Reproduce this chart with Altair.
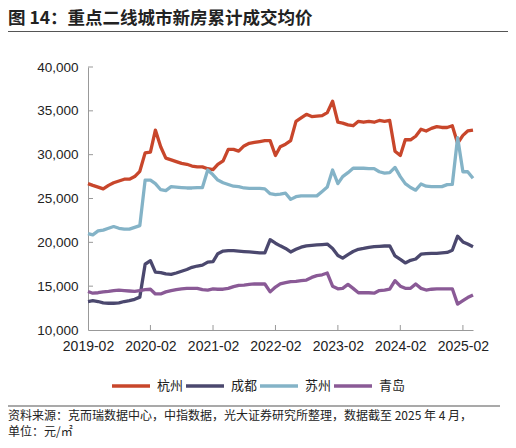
import altair as alt
import pandas as pd

cities = ["杭州", "成都", "苏州", "青岛"]
colors = ["#C8462B", "#4B486E", "#84B3C7", "#8A5A96"]

# monthly, 2019-02 ... 2025-04 (75 months)
months = pd.date_range("2019-02-01", periods=75, freq="MS").strftime("%Y-%m-%d").tolist()

hangzhou = [26700, 26500, 26300, 26100, 26500, 26800, 27000, 27200, 27200, 27500, 28100,
            30200, 30300, 32800, 30900, 29600, 29400, 29200, 29000, 28900, 28700, 28600, 28600, 28400,
            28300, 28900, 29300, 30600, 30600, 30400, 31000, 31300, 31400, 31500, 31600, 31600,
            29900, 30900, 31200, 31600, 33800, 34200, 34600, 34350, 34400, 34450, 34800, 36100,
            33700, 33600, 33400, 33300, 33800, 33700, 33800, 33700, 33900, 33800, 33900, 30400,
            29900, 31700, 31700, 32100, 32900, 32700, 33000, 33200, 33100, 33100, 33300, 31300,
            32200, 32700, 32800]
chengdu = [13250, 13340, 13250, 13100, 13050, 13050, 13100, 13250, 13340, 13500, 13750,
           17500, 17900, 16600, 16550, 16400, 16350, 16500, 16700, 16900, 17150, 17300, 17400, 17750,
           17800, 18700, 19000, 19050, 19050, 19000, 18950, 18900, 18850, 18800, 18800, 20300,
           19900, 19600, 19300, 18900, 19200, 19450, 19600, 19650, 19700, 19750, 19800, 19300,
           18500, 18200, 18600, 18950, 19200, 19300, 19430, 19500, 19550, 19580, 19600, 18450,
           18050, 17650, 17950, 18100, 18650, 18700, 18750, 18750, 18800, 18850, 19100, 20700,
           20050, 19800, 19500]
suzhou = [21000, 20850, 21300, 21400, 21600, 21800, 21600, 21500, 21500, 21700, 21900,
          27100, 27100, 26700, 26000, 25900, 26350, 26300, 26250, 26200, 26200, 26250, 26250, 28250,
          27700, 27100, 26800, 26600, 26400, 26350, 26200, 26150, 26150, 26150, 26100, 25550,
          25450, 25500, 25600, 24900, 25200, 25300, 25300, 25300, 25300, 25800, 26300, 28250,
          26700, 27500, 27950, 28450, 28450, 28450, 28400, 28400, 28050, 27900, 27950, 28550,
          27500, 26700, 26250, 25950, 26650, 26400, 26350, 26350, 26350, 26580, 26600, 31950,
          28050, 28050, 27300]
qingdao = [14400, 14200, 14250, 14350, 14400, 14480, 14550, 14500, 14450, 14400, 14500,
           14600, 14650, 14110, 14110, 14350, 14480, 14600, 14700, 14750, 14750, 14750, 14600, 14560,
           14700, 14650, 14650, 14750, 14950, 15100, 15130, 15200, 15250, 15250, 15250, 14350,
           14900, 15250, 15400, 15510, 15550, 15620, 15700, 16000, 16200, 16300, 16500, 15000,
           14700, 14750, 15200, 14750, 14250, 14250, 14250, 14200, 14500, 14550, 14650, 15620,
           15000, 14750, 14750, 15250, 14750, 14560, 14650, 14700, 14700, 14700, 14700, 12950,
           13350, 13700, 14000]

y_ticks = [10000, 15000, 20000, 25000, 30000, 35000, 40000]
x_tick_years = [2019, 2020, 2021, 2022, 2023, 2024, 2025]

title_text = "图 14：重点二线城市新房累计成交均价"
source_line1 = "资料来源：克而瑞数据中心，中指数据，光大证券研究所整理，数据截至 2025 年 4 月，"
source_line2 = "单位：元/㎡"

series = {"杭州": hangzhou, "成都": chengdu, "苏州": suzhou, "青岛": qingdao}
rows = []
for c in cities:
    for d, v in zip(months, series[c]):
        rows.append({"date": d, "city": c, "value": v})
df = pd.DataFrame(rows)

W, H = 385, 263

x_dates = [alt.DateTime(year=y, month=2, date=1, utc=True) for y in x_tick_years]
x_scale = alt.Scale(type="utc",
                    domain=[alt.DateTime(year=2019, month=2, date=1, utc=True),
                            alt.DateTime(year=2025, month=4, date=1, utc=True)])
y_scale = alt.Scale(domain=[10000, 40000], nice=False, zero=False)

x_axis = alt.Axis(values=x_dates, format="%Y-%m", title=None, labelPadding=9,
                  labelOverlap=False, labelFlush=False, labelFontSize=14)
y_axis = alt.Axis(values=y_ticks, format=",.0f", title=None, labelPadding=10,
                  labelOverlap=False, labelFlush=False, labelFontSize=13.5)

legend = alt.Legend(
    orient="none", legendX=22, legendY=298, direction="horizontal", title=None,
    symbolType="stroke", symbolSize=1444, symbolStrokeWidth=3.5,
    labelFont="Noto Sans CJK SC", labelFontSize=13, labelColor="#222",
    labelOffset=5, columnPadding=-8,
)

lines = alt.Chart(df).mark_line(strokeWidth=3.3, strokeJoin="round").encode(
    x=alt.X("date:T", scale=x_scale, axis=x_axis),
    y=alt.Y("value:Q", scale=y_scale, axis=y_axis),
    color=alt.Color("city:N", scale=alt.Scale(domain=cities, range=colors), legend=legend),
)

ytick_df = pd.DataFrame({"value": y_ticks[1:]})
yticks = alt.Chart(ytick_df).mark_rule(color="#999", strokeWidth=1).encode(
    y=alt.Y("value:Q", scale=y_scale, axis=y_axis),
    x=alt.value(0), x2=alt.value(5),
)

xtick_df = pd.DataFrame({"date": [f"{y}-02-01" for y in x_tick_years[1:]]})
xticks = alt.Chart(xtick_df).mark_rule(color="#999", strokeWidth=1).encode(
    x=alt.X("date:T", scale=x_scale, axis=x_axis),
    y=alt.value(H), y2=alt.value(H - 5),
)

one = pd.DataFrame({"a": [0]})
title_mark = alt.Chart(pd.DataFrame({"t": [title_text]})).mark_text(
    align="left", baseline="middle", font="Noto Sans CJK SC", fontSize=17.5,
    fontWeight="bold", color="#222").encode(x=alt.value(-80), y=alt.value(-48.5), text="t:N")
rule_top = alt.Chart(one).mark_rule(color="#555", strokeWidth=1.2).encode(
    x=alt.value(-80), x2=alt.value(422), y=alt.value(-35.5))
rule_bottom = alt.Chart(one).mark_rule(color="#555", strokeWidth=1.2).encode(
    x=alt.value(-80), x2=alt.value(412), y=alt.value(339))
src1 = alt.Chart(pd.DataFrame({"t": [source_line1]})).mark_text(
    align="left", baseline="middle", font="Noto Sans CJK SC", fontSize=12,
    color="#222").encode(x=alt.value(-80), y=alt.value(349), text="t:N")
src2 = alt.Chart(pd.DataFrame({"t": [source_line2]})).mark_text(
    align="left", baseline="middle", font="Noto Sans CJK SC", fontSize=12,
    color="#222").encode(x=alt.value(-80), y=alt.value(365), text="t:N")

chart = alt.layer(lines, yticks, xticks, title_mark, rule_top, rule_bottom, src1, src2).properties(
    width=W, height=H,
    padding={"left": 80, "top": 59, "right": 35, "bottom": 110},
    autosize=alt.AutoSizeParams(type="none"),
).configure_view(stroke=None).configure_axis(
    labelFont="Liberation Sans", labelColor="#222",
    domainColor="#999", domainWidth=1, grid=False, ticks=False,
)

chart.save("out.html", embed_options={"renderer": "svg", "actions": False})
